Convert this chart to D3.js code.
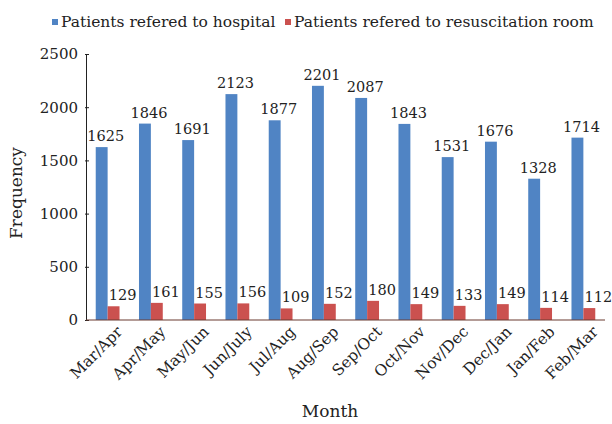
<!DOCTYPE html>
<html><head><meta charset="utf-8">
<script src="https://cdn.jsdelivr.net/npm/d3@7"></script>
<style>body{margin:0;background:#fff}svg{display:block}text{font-family:"DejaVu Serif",serif;fill:#222}</style>
</head><body>
<svg id="c" width="612" height="424"></svg>
<script>
const months = ["Mar/Apr","Apr/May","May/Jun","Jun/July","Jul/Aug","Aug/Sep","Sep/Oct","Oct/Nov","Nov/Dec","Dec/Jan","Jan/Feb","Feb/Mar"];
const hospital = [1625,1846,1691,2123,1877,2201,2087,1843,1531,1676,1328,1714];
const resus = [129,161,155,156,109,152,180,149,133,149,114,112];
const seriesNames = ["Patients refered to hospital","Patients refered to resuscitation room"];
const yTicks = [0,500,1000,1500,2000,2500];
const colors = ["#5084C4","#CB514F"];

const svg = d3.select("#c");
const m = {l:86, r:7, t:54, b:104};
const W = 612, H = 424;
const x = d3.scaleBand().domain(months).range([m.l, W-m.r]).paddingInner(0.45).paddingOuter(0.225);
const x1 = d3.scaleBand().domain([0,1]).range([0, x.bandwidth()]);
const y = d3.scaleLinear().domain([0,2500]).range([H-m.b, m.t]);

// axes
const ya = svg.append("g").attr("transform",`translate(${m.l},0)`)
  .call(d3.axisLeft(y).tickValues(yTicks).tickFormat(d3.format("d")).tickSize(3).tickSizeOuter(0));
ya.select(".domain").attr("stroke","#222");
ya.selectAll(".tick line").attr("x2",3).attr("x1",-1).attr("stroke","#222");
ya.selectAll(".tick text").attr("x",-8).style("font-size","15px").style("font-family","DejaVu Serif").attr("fill","#222");

const data = months.map((mo,i)=>({mo, v:[hospital[i], resus[i]]}));
const g = svg.selectAll(".grp").data(data).enter().append("g").attr("transform",d=>`translate(${x(d.mo)},0)`);
g.selectAll("rect").data(d=>d.v.map((v,k)=>({v,k}))).enter().append("rect")
  .attr("x",d=>x1(d.k)).attr("width",x1.bandwidth())
  .attr("y",d=>y(d.v)).attr("height",d=>y(0)-y(d.v)).attr("fill",d=>colors[d.k]);
g.selectAll("text.lab").data(d=>d.v.map((v,k)=>({v,k}))).enter().append("text").attr("class","lab")
  .attr("x",d=>x1(d.k)+x1.bandwidth()/2+(d.k===0?4:9)).attr("y",d=>y(d.v)-6)
  .attr("text-anchor","middle").style("font-size","14.5px").text(d=>d.v);

svg.append("line").attr("x1",m.l).attr("x2",W-m.r).attr("y1",y(0)).attr("y2",y(0)).attr("stroke","#6b3a30").attr("stroke-width",1.2);

// x labels
svg.selectAll(".xl").data(months).enter().append("text")
  .attr("transform",d=>`translate(${x(d)+x.bandwidth()/2+8},${y(0)+5}) rotate(-45)`)
  .attr("text-anchor","end").attr("dy","0.7em").style("font-size","15.5px").text(d=>d);

svg.append("text").attr("x",330).attr("y",417).attr("text-anchor","middle").style("font-size","17px").text("Month");
svg.append("text").attr("transform","translate(22,193) rotate(-90)").attr("text-anchor","middle").style("font-size","17px").text("Frequency");

// legend
const lx = [52, 285];
seriesNames.forEach((s,i)=>{
  svg.append("rect").attr("x",lx[i]).attr("y",19).attr("width",6).attr("height",6).attr("fill",colors[i]);
  svg.append("text").attr("x",lx[i]+9).attr("y",27).style("font-size","15.5px").text(s);
});
</script>
</body></html>
